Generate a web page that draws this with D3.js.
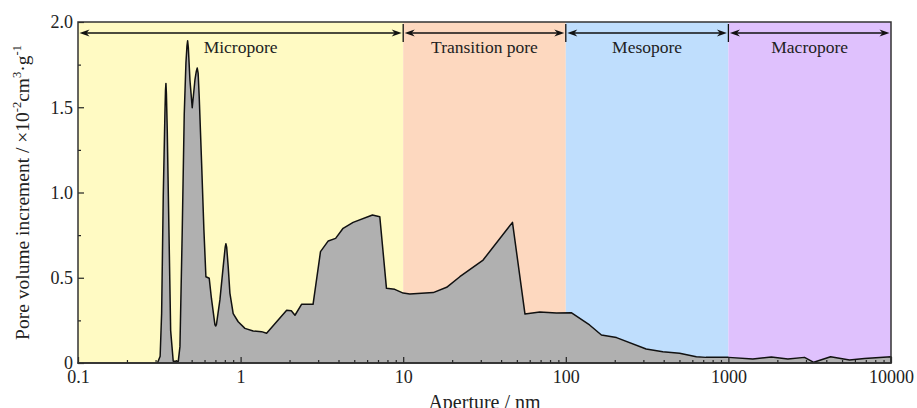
<!DOCTYPE html>
<html>
<head>
<meta charset="utf-8">
<script src="https://cdn.jsdelivr.net/npm/d3@7"></script>
<style>
  body { margin: 0; background: #fff; }
  svg { display: block; font-family: 'Liberation Serif', 'Times New Roman', serif; }
  .axis text { font-family: 'Liberation Serif', 'Times New Roman', serif; font-size: 18px; fill: #222; }
</style>
</head>
<body>
<div class="chart"></div>
<script>
'use strict';

// aperture (nm) and pore volume increment (x10^-2 cm3/g)
const aperture = [
  0.1, 0.3080, 0.3200, 0.3268, 0.3344, 0.3425, 0.3452, 0.3474, 0.3497, 0.3539, 0.3625, 0.3714,
  0.3852, 0.4136, 0.4236, 0.4377, 0.4502, 0.4611, 0.4680, 0.4723, 0.4770, 0.4880,
  0.5041, 0.5238, 0.5340, 0.5412, 0.5480, 0.5566, 0.5758, 0.5948, 0.6118, 0.6412,
  0.6614, 0.695, 0.7020, 0.710, 0.7460, 0.7816, 0.8040, 0.8120, 0.8210, 0.8389,
  0.8594, 0.9004, 0.9665, 1.063, 1.195, 1.346, 1.445, 1.92, 2.05, 2.16, 2.37, 2.79,
  3.10, 3.46, 3.84, 4.27, 4.92, 6.47, 7.18, 7.89, 8.87, 10, 10.98, 15.3, 18.5, 22.3,
  31.0, 47.0, 56.1, 69.2, 87.5, 108, 140, 165.6, 205, 312, 395, 501, 635, 727, 1000,
  1413, 1837, 2322, 2938, 3350, 4250, 5560, 6870, 10000
];
const volume = [
  0, 0, 0.04, 0.29, 0.975, 1.466, 1.60, 1.64, 1.58, 1.367, 0.78, 0.19,
  0.01, 0.01, 0.096, 0.78, 1.46, 1.76, 1.86, 1.89, 1.85, 1.66,
  1.497, 1.66, 1.71, 1.73, 1.70, 1.56, 1.17, 0.78, 0.506, 0.497,
  0.38, 0.225, 0.217, 0.225, 0.37, 0.565, 0.68, 0.70, 0.68, 0.565,
  0.41, 0.29, 0.242, 0.203, 0.188, 0.184, 0.174, 0.31, 0.307, 0.28, 0.344, 0.344,
  0.653, 0.716, 0.731, 0.79, 0.825, 0.868, 0.858, 0.438, 0.432, 0.41, 0.405, 0.413, 0.444, 0.506,
  0.604, 0.825, 0.287, 0.299, 0.293, 0.295, 0.223, 0.164, 0.149, 0.082, 0.066, 0.057, 0.037, 0.033, 0.033,
  0.023, 0.035, 0.023, 0.033, 0.004, 0.037, 0.018, 0.027, 0.037
];

const regionNames = ['Micropore', 'Transition pore', 'Mesopore', 'Macropore'];
const regionEdges = [0.1, 10, 100, 1000, 10000];
const regionColors = ['#fffac3', '#fdd8bf', '#bfdefd', '#dfc1fd'];

const xMajor = [0.1, 1, 10, 100, 1000, 10000];
const yMajor = [0, 0.5, 1.0, 1.5, 2.0];
const yMinor = [0.25, 0.75, 1.25, 1.75];

const WIDTH = 917;
const HEIGHT = 408;
const margin = {top: 22, right: 26, bottom: 45, left: 78};

const svg = d3.select('.chart')
  .append('svg')
    .attr('width', WIDTH)
    .attr('height', HEIGHT);

const x = d3.scaleLog()
    .domain([0.1, 10000])
    .range([margin.left, WIDTH - margin.right]);

const y = d3.scaleLinear()
    .domain([0, 2])
    .range([HEIGHT - margin.bottom, margin.top]);

// region backgrounds
svg.append('g')
  .selectAll('rect')
  .data(regionNames)
  .enter().append('rect')
    .attr('x', (d, i) => x(regionEdges[i]))
    .attr('y', y(2))
    .attr('width', (d, i) => x(regionEdges[i + 1]) - x(regionEdges[i]))
    .attr('height', y(0) - y(2))
    .attr('fill', (d, i) => regionColors[i]);

// distribution
const points = aperture.map((a, i) => ({a, v: volume[i]}));

svg.append('path')
    .datum(points)
    .attr('fill', '#b0b0b0')
    .attr('stroke', '#111')
    .attr('stroke-width', 1.5)
    .attr('stroke-linejoin', 'round')
    .attr('d', d3.area()
      .x(d => x(d.a))
      .y0(y(0))
      .y1(d => y(d.v)));

// region arrows
const arrowY = 33;
const head = (tipX, dir) => {
  const L = 10, W = 3.6, back = 7;
  return `M${tipX},${arrowY}L${tipX + dir * L},${arrowY - W}L${tipX + dir * back},${arrowY}L${tipX + dir * L},${arrowY + W}Z`;
};

const arrows = svg.append('g');
regionNames.forEach((name, i) => {
  const x0 = x(regionEdges[i]) + 1.5;
  const x1 = x(regionEdges[i + 1]) - 1.5;
  arrows.append('line')
      .attr('x1', x0 + 4).attr('x2', x1 - 4)
      .attr('y1', arrowY).attr('y2', arrowY)
      .attr('stroke', '#111')
      .attr('stroke-width', 1.4);
  arrows.append('path').attr('d', head(x0, 1)).attr('fill', '#111');
  arrows.append('path').attr('d', head(x1, -1)).attr('fill', '#111');
  arrows.append('text')
      .attr('x', (x(regionEdges[i]) + x(regionEdges[i + 1])) / 2)
      .attr('y', 53)
      .attr('text-anchor', 'middle')
      .attr('font-size', '17.5px')
      .attr('fill', '#222')
      .text(name);
});

regionEdges.slice(1, -1).forEach(e => {
  arrows.append('line')
      .attr('x1', x(e)).attr('x2', x(e))
      .attr('y1', 24).attr('y2', 42)
      .attr('stroke', '#111')
      .attr('stroke-width', 1.3);
});

// axes
const xMinor = [];
xMajor.slice(0, -1).forEach(d => {
  for (let k = 2; k <= 9; k++) xMinor.push(d * k);
});

svg.append('g')
    .attr('class', 'axis')
    .attr('transform', `translate(0,${y(0)})`)
    .call(d3.axisBottom(x)
      .tickValues(xMinor)
      .tickSize(-3)
      .tickFormat(''))
    .call(g => g.select('.domain').remove());

svg.append('g')
    .attr('class', 'axis')
    .attr('transform', `translate(0,${y(0)})`)
    .call(d3.axisBottom(x)
      .tickValues(xMajor)
      .tickSize(-6)
      .tickPadding(7)
      .tickFormat(d3.format('~g')))
    .call(g => g.select('.domain').remove());

svg.append('g')
    .attr('class', 'axis')
    .attr('transform', `translate(${margin.left},0)`)
    .call(d3.axisLeft(y)
      .tickValues(yMinor)
      .tickSize(-3)
      .tickFormat(''))
    .call(g => g.select('.domain').remove());

svg.append('g')
    .attr('class', 'axis')
    .attr('transform', `translate(${margin.left},0)`)
    .call(d3.axisLeft(y)
      .tickValues(yMajor)
      .tickSize(-6)
      .tickPadding(5)
      .tickFormat(d => d === 0 ? '0' : d3.format('.1f')(d)))
    .call(g => g.select('.domain').remove());

svg.selectAll('.axis .tick line')
    .attr('stroke', '#222')
    .attr('stroke-width', 1.2);

// frame
svg.append('rect')
    .attr('x', margin.left)
    .attr('y', margin.top)
    .attr('width', WIDTH - margin.left - margin.right)
    .attr('height', HEIGHT - margin.top - margin.bottom)
    .attr('fill', 'none')
    .attr('stroke', '#333')
    .attr('stroke-width', 1.5);

// axis titles
svg.append('text')
    .attr('x', (margin.left + WIDTH - margin.right) / 2)
    .attr('y', 409)
    .attr('text-anchor', 'middle')
    .attr('font-size', '20px')
    .attr('fill', '#222')
    .text('Aperture / nm');

const yt = svg.append('text')
    .attr('transform', `translate(29,${(y(0) + y(2)) / 2}) rotate(-90)`)
    .attr('text-anchor', 'middle')
    .attr('font-size', '19.5px')
    .attr('fill', '#222');
yt.append('tspan').text('Pore volume increment / \u00d710');
yt.append('tspan').attr('font-size', '12.5px').attr('dy', -8).text('-2');
yt.append('tspan').attr('dy', 8).text('cm');
yt.append('tspan').attr('font-size', '12.5px').attr('dy', -8).text('3');
yt.append('tspan').attr('dy', 8).text('\u00b7g');
yt.append('tspan').attr('font-size', '12.5px').attr('dy', -8).text('-1');
</script>
</body>
</html>
